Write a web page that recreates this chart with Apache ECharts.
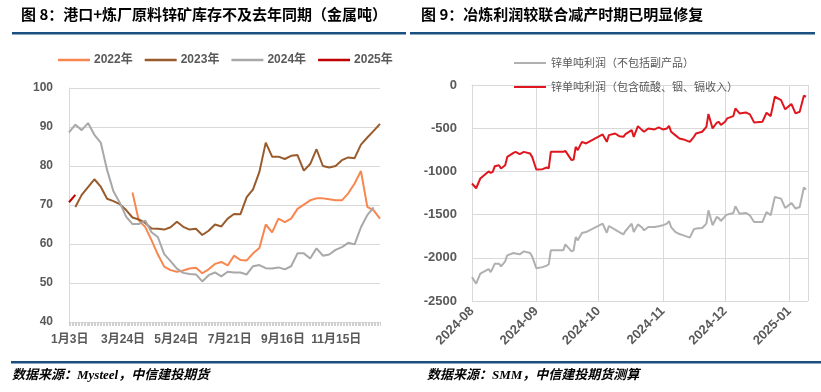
<!DOCTYPE html>
<html><head><meta charset="utf-8">
<script src="https://cdn.jsdelivr.net/npm/echarts@6/dist/echarts.min.js"></script>
<style>html,body{margin:0;padding:0;background:#fff}#c{width:821px;height:392px}</style>
</head><body><div id="c"></div>
<script>
// ---------- Left chart data (weekly points, 万/金属吨) ----------
const leftTickLabels = ['1月3日','3月24日','5月24日','7月21日','9月16日','11月15日'];
const leftSeriesNames = ['2022年','2023年','2024年','2025年'];
const y2022 = [null,null,null,null,null,null,null,null,null,null,
  73.2,66.0,64.4,61.0,57.3,54.2,53.3,52.9,53.2,53.7,53.9,52.5,53.5,54.9,55.4,54.5,57.0,55.9,55.8,57.6,
  59.0,65.0,63.0,66.5,65.6,66.5,69.0,70.1,71.2,71.7,71.7,71.5,71.2,71.2,73.0,75.5,78.7,69.5,68.6,66.5];
const y2023 = [null,69.5,72.6,74.6,76.6,74.7,71.6,71.0,70.2,68.7,66.8,66.3,65.4,64.0,63.9,63.7,64.3,65.7,64.4,63.7,
  63.9,62.3,63.4,65.0,64.5,66.5,67.7,67.6,72.0,74.0,78.5,86.0,82.4,82.4,81.8,82.6,82.8,78.8,80.5,84.3,
  80.0,79.6,80.0,81.5,82.2,82.0,85.5,87.3,89.0,90.8];
const y2024 = [88.6,90.6,89.2,91.0,88.0,86.0,79.0,73.5,70.6,67.0,65.1,65.1,66.0,63.0,61.8,57.4,55.6,53.7,52.6,52.3,
  52.2,50.4,52.0,52.7,51.7,52.9,52.7,52.7,52.2,54.3,54.6,53.8,53.7,54.0,53.5,54.3,57.6,57.6,56.3,58.9,
  57.0,57.3,58.5,59.2,60.3,59.9,64.3,67.4,69.4];
const y2025 = [70.7,72.6];

// ---------- Right chart data (元/吨) ----------
const profitNames = ['锌单吨利润（不包括副产品）','锌单吨利润（包含硫酸、铟、镉收入）'];
const profitDates = ['2024-08-01','2024-08-03','2024-08-05','2024-08-09','2024-08-10','2024-08-11','2024-08-12','2024-08-14','2024-08-15','2024-08-17','2024-08-18','2024-08-21','2024-08-22','2024-08-24','2024-08-26','2024-08-29','2024-08-30',
  '2024-09-01','2024-09-04','2024-09-06','2024-09-07','2024-09-08','2024-09-14','2024-09-15','2024-09-18','2024-09-19','2024-09-20','2024-09-21','2024-09-23','2024-09-25',
  '2024-10-03','2024-10-05','2024-10-06','2024-10-09','2024-10-11','2024-10-13','2024-10-14','2024-10-17','2024-10-18','2024-10-20','2024-10-22','2024-10-23','2024-10-25','2024-10-28','2024-10-30',
  '2024-11-01','2024-11-03','2024-11-04','2024-11-05','2024-11-07','2024-11-09','2024-11-11','2024-11-14','2024-11-16','2024-11-17','2024-11-20','2024-11-22','2024-11-23','2024-11-25','2024-11-27','2024-11-28','2024-11-29',
  '2024-12-01','2024-12-02','2024-12-05','2024-12-06','2024-12-08','2024-12-11','2024-12-13','2024-12-15','2024-12-19','2024-12-21','2024-12-23','2024-12-25','2024-12-28','2024-12-30',
  '2025-01-02','2025-01-04','2025-01-06','2025-01-08','2025-01-09'];
const profitWithBy = [-1140,-1195,-1082,-1000,-1017,-1005,-940,-928,-966,-928,-832,-785,-774,-800,-774,-793,-832,
  -978,-974,-955,-966,-774,-774,-762,-870,-862,-716,-754,-658,-677,
  -572,-658,-580,-561,-592,-600,-568,-522,-600,-476,-522,-541,-503,-514,-491,
  -514,-503,-472,-541,-580,-619,-630,-658,-600,-561,-541,-484,-336,-503,-437,-426,-464,
  -426,-387,-360,-271,-329,-317,-340,-433,-426,-321,-360,-136,-174,-282,
  -220,-329,-310,-124,-136];
const profitNoBy = [-2224,-2300,-2184,-2130,-2166,-2120,-2068,-2068,-2100,-2040,-1972,-1945,-1950,-1960,-1926,-1945,-1984,
  -2120,-2108,-2090,-2077,-1914,-1914,-1845,-1926,-1915,-1760,-1798,-1713,-1702,
  -1605,-1710,-1632,-1674,-1702,-1729,-1690,-1605,-1702,-1613,-1650,-1682,-1644,-1644,-1635,
  -1624,-1605,-1574,-1644,-1700,-1725,-1740,-1767,-1670,-1662,-1655,-1605,-1450,-1624,-1527,-1540,-1574,
  -1520,-1500,-1481,-1404,-1489,-1481,-1510,-1586,-1586,-1470,-1508,-1296,-1315,-1423,
  -1365,-1430,-1412,-1187,-1210];

// ---------- build ----------
const FONT = "'Liberation Sans','Noto Sans CJK SC',sans-serif";
const CJK = "'Noto Sans CJK SC','Liberation Sans',sans-serif";
const slotCount = 210, labelStep = 36;
const slotCats = Array.from({length: slotCount}, (_, i) => (i % labelStep === 0 ? (leftTickLabels[i / labelStep] || '') : ''));
const weekCats = Array.from({length: 50}, (_, i) => 'w' + i);
const leftColors = ['#F8864F', '#9A5B2C', '#A8A8A8', '#C00000'];
const leftData = [y2022, y2023, y2024, y2025];

const chart = echarts.init(document.getElementById('c'), null, {renderer: 'canvas'});
const pad2 = n => (n < 10 ? '0' : '') + n;

const option = {
  animation: false,
  backgroundColor: '#fff',
  textStyle: {fontFamily: FONT},
  grid: [
    {left: 69, right: 441, top: 88, bottom: 70, outerBoundsMode: 'none'},
    {left: 472, right: 13, top: 85, bottom: 91, outerBoundsMode: 'none'}
  ],
  legend: [
    {
      data: leftSeriesNames, left: 53, top: 49, icon: 'rect', itemWidth: 32, itemHeight: 2.5, itemGap: 12,
      textStyle: {fontSize: 12, fontWeight: 'bold', color: '#595959', fontFamily: FONT, padding: [0, 0, 0, -1]}
    },
    {
      data: profitNames, orient: 'vertical', left: 509, top: 51, icon: 'rect', itemWidth: 32, itemHeight: 2, itemGap: 10,
      textStyle: {fontSize: 11, color: '#595959', fontFamily: CJK, lineHeight: 14}
    }
  ],
  xAxis: [
    {
      type: 'category', gridIndex: 0, data: slotCats, boundaryGap: true,
      axisLine: {show: true, lineStyle: {color: '#D9D9D9'}},
      axisTick: {show: true, interval: 0, length: 4, lineStyle: {color: '#D0D0D0'}},
      axisLabel: {interval: labelStep - 1, fontSize: 12, fontWeight: 'bold', color: '#595959', margin: 12, fontFamily: FONT},
      splitLine: {show: false}
    },
    {type: 'category', gridIndex: 0, data: weekCats, boundaryGap: false, show: false},
    {
      type: 'time', gridIndex: 1, min: '2024-08-01', max: '2025-01-10',
      minInterval: 28 * 86400000, maxInterval: 31 * 86400000,
      axisLine: {show: true, lineStyle: {color: '#D9D9D9'}},
      axisTick: {show: false},
      splitLine: {show: true, lineStyle: {color: '#D9D9D9'}},
      axisLabel: {
        rotate: 45, fontSize: 13, fontWeight: 'bold', color: '#595959', margin: 8, fontFamily: FONT,
        showMinLabel: true, showMaxLabel: false,
        formatter: v => { const d = new Date(v); return d.getFullYear() + '-' + pad2(d.getMonth() + 1); }
      }
    }
  ],
  yAxis: [
    {
      type: 'value', gridIndex: 0, min: 40, max: 100, interval: 10,
      axisLine: {show: true, lineStyle: {color: '#D9D9D9'}},
      axisTick: {show: false},
      splitLine: {show: true, lineStyle: {color: '#D9D9D9'}},
      axisLabel: {fontSize: 12, fontWeight: 'bold', color: '#595959', margin: 16, fontFamily: FONT}
    },
    {
      type: 'value', gridIndex: 1, min: -2500, max: 0, interval: 500,
      axisLine: {show: true, lineStyle: {color: '#D9D9D9'}},
      axisTick: {show: false},
      splitLine: {show: true, lineStyle: {color: '#D9D9D9'}},
      axisLabel: {fontSize: 13, fontWeight: 'bold', color: '#595959', margin: 15, fontFamily: FONT, formatter: v => String(v)}
    }
  ],
  series: [
    ...leftSeriesNames.map((n, k) => ({
      name: n, type: 'line', xAxisIndex: 1, yAxisIndex: 0, data: leftData[k],
      symbol: 'none', showSymbol: false, connectNulls: false,
      lineStyle: {width: 2, color: leftColors[k]}, itemStyle: {color: leftColors[k]}
    })),
    {
      name: profitNames[0], type: 'line', xAxisIndex: 2, yAxisIndex: 1,
      data: profitDates.map((d, i) => [d, profitNoBy[i]]),
      symbol: 'none', showSymbol: false,
      lineStyle: {width: 2, color: '#B0B0B0'}, itemStyle: {color: '#B0B0B0'}
    },
    {
      name: profitNames[1], type: 'line', xAxisIndex: 2, yAxisIndex: 1,
      data: profitDates.map((d, i) => [d, profitWithBy[i]]),
      symbol: 'none', showSymbol: false,
      lineStyle: {width: 2, color: '#E0161F'}, itemStyle: {color: '#E0161F'}
    }
  ],
  graphic: [
    {type: 'text', left: 21, top: 7, style: {text: '图 8：港口+炼厂原料锌矿库存不及去年同期（金属吨）', font: "bold 15px 'Noto Sans CJK SC','Liberation Sans',sans-serif", fill: '#000'}},
    {type: 'text', left: 421, top: 7, style: {text: '图 9：冶炼利润较联合减产时期已明显修复', font: "bold 15px 'Noto Sans CJK SC','Liberation Sans',sans-serif", fill: '#000'}},
    {type: 'rect', shape: {x: 12, y: 32, width: 394, height: 2.5}, style: {fill: '#1B4F80'}},
    {type: 'rect', shape: {x: 410, y: 32, width: 405, height: 2.5}, style: {fill: '#1B4F80'}},
    {type: 'rect', shape: {x: 11, y: 361, width: 810, height: 2.5}, style: {fill: '#1B4F80'}},
    {type: 'text', left: 12, top: 369, style: {text: '数据来源：Mysteel，中信建投期货', font: "italic bold 13px 'Liberation Serif','Noto Sans CJK SC',serif", fill: '#000'}},
    {type: 'text', left: 427, top: 369, style: {text: '数据来源：SMM，中信建投期货测算', font: "italic bold 13px 'Liberation Serif','Noto Sans CJK SC',serif", fill: '#000'}}
  ]
};
chart.setOption(option);
</script>
</body></html>
